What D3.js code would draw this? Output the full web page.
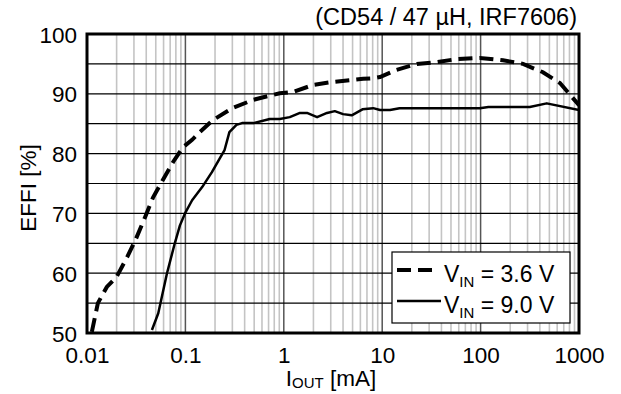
<!DOCTYPE html>
<html>
<head>
<meta charset="utf-8">
<script src="https://cdn.jsdelivr.net/npm/d3@7"></script>
<style>
  body { margin: 0; background: #fff; }
  svg { display: block; font-family: "Liberation Sans", Arial, sans-serif; }
</style>
</head>
<body>
<div id="chart"></div>
<script>
// Data
const iout36 = [0.0112, 0.0129, 0.0159, 0.02, 0.0256, 0.031, 0.039, 0.047, 0.059, 0.075, 0.095, 0.117, 0.14, 0.19, 0.30, 0.49, 0.91, 1.24, 2.0, 3.2, 6.4, 8.1, 9.5, 14, 22.5, 36, 57, 98, 169, 270, 430, 640, 1000];
const eff36 = [50.2, 55, 57.7, 59.4, 62.7, 65.5, 69.4, 72.7, 75.6, 78.6, 81.1, 82.3, 83.6, 85.6, 87.6, 89, 90.1, 90.3, 91.5, 92, 92.5, 92.6, 92.8, 94, 95, 95.3, 95.8, 96, 95.6, 95, 93.6, 91.8, 88.1];

const iout90 = [0.0457, 0.053, 0.065, 0.078, 0.088, 0.099, 0.117, 0.148, 0.186, 0.225, 0.25, 0.28, 0.33, 0.376, 0.49, 0.72, 0.91, 1.15, 1.46, 1.72, 2.18, 2.75, 3.3, 4.0, 4.9, 6.3, 8.1, 9.5, 12, 15, 98, 120, 316, 470, 1000];
const eff90 = [50.5, 53.3, 60, 65, 68, 70, 72.2, 74.4, 76.9, 79.3, 80.6, 83.6, 84.8, 85.1, 85.1, 85.8, 85.8, 86.1, 86.8, 86.8, 86.1, 86.8, 87.1, 86.6, 86.4, 87.4, 87.6, 87.3, 87.3, 87.6, 87.6, 87.8, 87.8, 88.4, 87.3];

const xTicks = [0.01, 0.1, 1, 10, 100, 1000];
const xTickLabels = ['0.01', '0.1', '1', '10', '100', '1000'];
const yTicks = [50, 60, 70, 80, 90, 100];
const yGrid = [55, 60, 65, 70, 75, 80, 85, 90, 95];
const legendItems = [
    { sub: 'IN', label: ' = 3.6 V', dash: '14,7', width: 4 },
    { sub: 'IN', label: ' = 9.0 V', dash: null, width: 2.5 }
];

// Layout
const W = 621, H = 394;
const plot = { left: 87, right: 579, top: 34, bottom: 333 };

const svg = d3.select('#chart').append('svg')
    .attr('width', W)
    .attr('height', H);

const x = d3.scaleLog().domain([0.01, 1000]).range([plot.left, plot.right]);
const y = d3.scaleLinear().domain([50, 100]).range([plot.bottom, plot.top]);

// Minor vertical grid (2..9 in each decade)
const minor = [];
for (let d = 0.01; d < 1000; d *= 10) {
    for (let k = 2; k <= 9; k++) minor.push(+(d * k).toPrecision(3));
}
svg.append('g').selectAll('line').data(minor).join('line')
    .attr('x1', d => x(d)).attr('x2', d => x(d))
    .attr('y1', plot.top).attr('y2', plot.bottom)
    .attr('stroke', '#c4c4c4').attr('stroke-width', 1.6);

// Major vertical grid
svg.append('g').selectAll('line').data(xTicks.slice(1, -1)).join('line')
    .attr('x1', d => x(d)).attr('x2', d => x(d))
    .attr('y1', plot.top).attr('y2', plot.bottom)
    .attr('stroke', '#555').attr('stroke-width', 1.5);

// Horizontal grid
svg.append('g').selectAll('line').data(yGrid).join('line')
    .attr('x1', plot.left).attr('x2', plot.right)
    .attr('y1', d => y(d)).attr('y2', d => y(d))
    .attr('stroke', '#000').attr('stroke-width', 1.2);

// Curves
const line = d3.line().x(d => x(d[0])).y(d => y(d[1]));
svg.append('clipPath').attr('id', 'clip')
    .append('rect')
    .attr('x', plot.left).attr('y', plot.top)
    .attr('width', plot.right - plot.left).attr('height', plot.bottom - plot.top);

svg.append('path')
    .datum(d3.zip(iout36, eff36))
    .attr('clip-path', 'url(#clip)')
    .attr('d', line)
    .attr('fill', 'none')
    .attr('stroke', '#000')
    .attr('stroke-width', 4)
    .attr('stroke-dasharray', '14,7');

svg.append('path')
    .datum(d3.zip(iout90, eff90))
    .attr('clip-path', 'url(#clip)')
    .attr('d', line)
    .attr('fill', 'none')
    .attr('stroke', '#000')
    .attr('stroke-width', 2.5)
    .attr('stroke-linejoin', 'round');

// Frame
svg.append('rect')
    .attr('x', plot.left).attr('y', plot.top)
    .attr('width', plot.right - plot.left).attr('height', plot.bottom - plot.top)
    .attr('fill', 'none').attr('stroke', '#000').attr('stroke-width', 3);

// Axes (labels only)
const xAxis = svg.append('g')
    .attr('transform', `translate(0, ${plot.bottom})`)
    .call(d3.axisBottom(x).tickValues(xTicks).tickFormat((d, i) => xTickLabels[i]).tickSize(0).tickPadding(0));
xAxis.select('.domain').remove();
xAxis.selectAll('text')
    .attr('y', 30).attr('dy', null)
    .attr('fill', '#000')
    .style('font-size', '22.5px')
    .style('font-family', '"Liberation Sans", Arial, sans-serif');

const yAxis = svg.append('g')
    .attr('transform', 'translate(77, 0)')
    .call(d3.axisLeft(y).tickValues(yTicks).tickSize(0).tickPadding(0));
yAxis.select('.domain').remove();
yAxis.selectAll('text')
    .attr('x', 0).attr('dy', '0.36em')
    .attr('fill', '#000')
    .style('font-size', '22.5px')
    .style('font-family', '"Liberation Sans", Arial, sans-serif');

// Axis titles
const xTitle = svg.append('text')
    .attr('x', 331).attr('y', 386)
    .attr('text-anchor', 'middle')
    .style('font-size', '22.5px');
xTitle.append('tspan').text('I');
xTitle.append('tspan').attr('dy', 2).style('font-size', '15px').text('OUT');
xTitle.append('tspan').attr('dy', -2).text(' [mA]');

svg.append('text')
    .attr('transform', 'translate(36, 188) rotate(-90)')
    .attr('text-anchor', 'middle')
    .style('font-size', '22.5px')
    .text('EFFI [%]');

// Title
svg.append('text')
    .attr('x', plot.right - 2).attr('y', 25)
    .attr('text-anchor', 'end')
    .style('font-size', '23.5px')
    .text('(CD54 / 47 \u00b5H, IRF7606)');

// Legend
const legend = svg.append('g').attr('transform', 'translate(392, 252)');
legend.append('rect')
    .attr('width', 178).attr('height', 71)
    .attr('fill', '#fff').attr('stroke', '#000').attr('stroke-width', 1.2);

legendItems.forEach((item, i) => {
    const ly = 18 + i * 31;
    legend.append('line')
        .attr('x1', 5).attr('x2', item.dash ? 41 : 49)
        .attr('y1', ly).attr('y2', ly)
        .attr('stroke', '#000')
        .attr('stroke-width', item.width)
        .attr('stroke-dasharray', item.dash);
    const t = legend.append('text')
        .attr('x', 52).attr('y', ly + 12)
        .style('font-size', '23px');
    t.append('tspan').text('V');
    t.append('tspan').attr('dy', 5).style('font-size', '15px').text(item.sub);
    t.append('tspan').attr('dy', -5).text(item.label);
});
</script>
</body>
</html>
